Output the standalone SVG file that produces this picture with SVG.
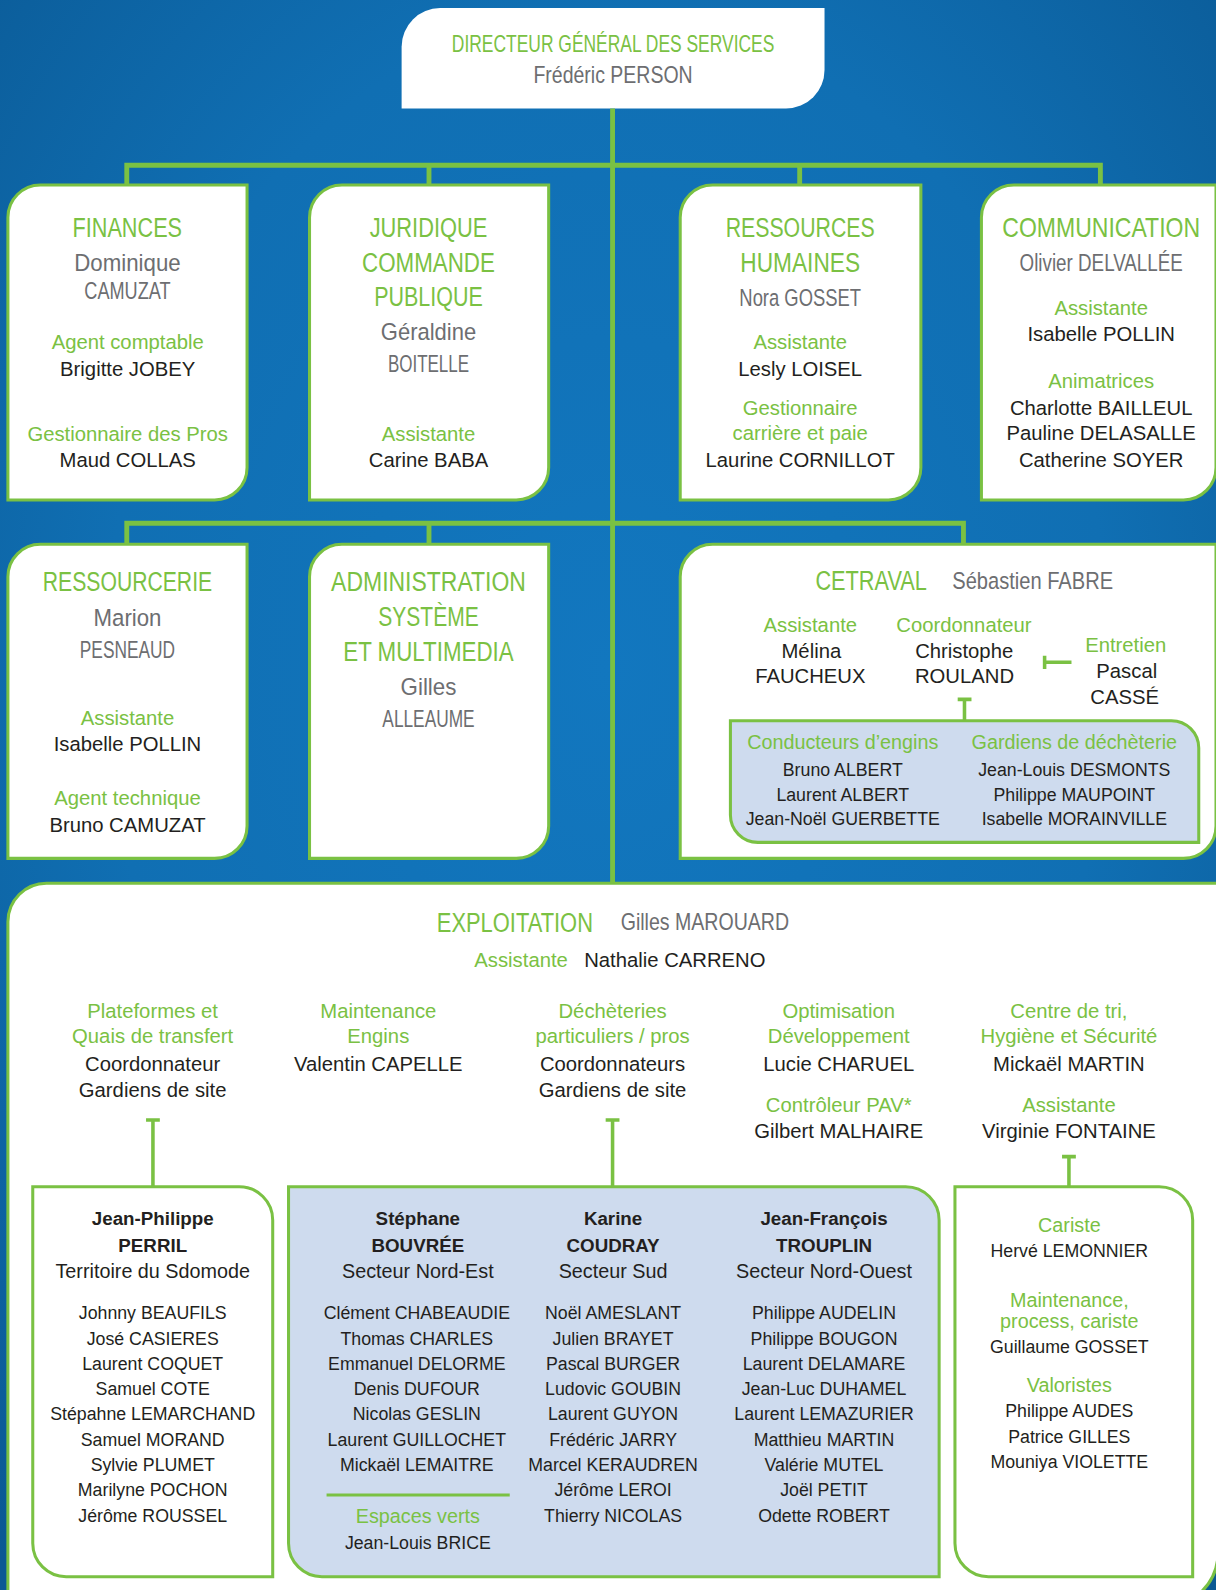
<svg xmlns="http://www.w3.org/2000/svg" width="1216" height="1590" viewBox="0 0 1216 1590">
<defs>
<radialGradient id="bg" cx="50%" cy="42%" r="75%">
<stop offset="0" stop-color="#1277bf"/>
<stop offset="0.55" stop-color="#106fb3"/>
<stop offset="1" stop-color="#0a5893"/>
</radialGradient>
<style>
text{font-family:'Liberation Sans',Arial,sans-serif;text-anchor:middle}
.box{fill:#fff;stroke:#7ac143;stroke-width:3}
.lb{fill:#cedbee;stroke:#7ac143;stroke-width:3}
.ti{font-size:27px;fill:#7ac143}
.tg{font-size:23px;fill:#7ac143}
.gr{font-size:23px;fill:#6d6e71}
.r{font-size:20px;fill:#7ac143}
.n{font-size:20px;fill:#231f20}
.r2{font-size:19.5px;fill:#7ac143}
.s{font-size:17.5px;fill:#231f20}
.b{font-size:18.5px;font-weight:bold;fill:#231f20}
.h{font-size:19.5px;fill:#231f20}
.st{text-anchor:start}
.ln{fill:none;stroke:#7ac143;stroke-width:4.8}
.tk{fill:none;stroke:#7ac143;stroke-width:3.5}
</style>
</defs>
<rect width="1216" height="1590" fill="url(#bg)"/>
<g transform="scale(1.01418,1.01403)">

<g id="dgs">
<path d="M396,46 A38,38 0 0 1 434,8 H813 V69 A38,38 0 0 1 775,107 H396 Z" fill="#fff"/>
<text class="tg" x="604.5" y="51" textLength="318" lengthAdjust="spacingAndGlyphs">DIRECTEUR GÉNÉRAL DES SERVICES</text>
<text class="gr" x="604.5" y="82.2" textLength="157" lengthAdjust="spacingAndGlyphs">Frédéric PERSON</text>
</g>

<g id="finances">
<path class="box" d="M7.8,214.4 A32,32 0 0 1 39.8,182.4 H243.6 V461 A32,32 0 0 1 211.6,493 H7.8 Z"/>
<text class="ti" x="125.5" y="233.4" textLength="108" lengthAdjust="spacingAndGlyphs">FINANCES</text>
<text class="gr" x="125.7" y="266.9" textLength="105" lengthAdjust="spacingAndGlyphs">Dominique</text>
<text class="gr" x="125.7" y="295.2" textLength="85" lengthAdjust="spacingAndGlyphs">CAMUZAT</text>
<text class="r" x="125.9" y="344.5">Agent comptable</text>
<text class="n" x="125.9" y="370.8">Brigitte JOBEY</text>
<text class="r" x="125.9" y="434.9">Gestionnaire des Pros</text>
<text class="n" x="125.9" y="460.8">Maud COLLAS</text>
</g>

<g id="juridique">
<path class="box" d="M305.2,214.4 A32,32 0 0 1 337.2,182.4 H541 V461 A32,32 0 0 1 509,493 H305.2 Z"/>
<text class="ti" x="422.5" y="233.4" textLength="116" lengthAdjust="spacingAndGlyphs">JURIDIQUE</text>
<text class="ti" x="422.5" y="267.9" textLength="131" lengthAdjust="spacingAndGlyphs">COMMANDE</text>
<text class="ti" x="422.5" y="301.8" textLength="107" lengthAdjust="spacingAndGlyphs">PUBLIQUE</text>
<text class="gr" x="422.5" y="335.3" textLength="94" lengthAdjust="spacingAndGlyphs">Géraldine</text>
<text class="gr" x="422.5" y="366.5" textLength="80" lengthAdjust="spacingAndGlyphs">BOITELLE</text>
<text class="r" x="422.5" y="434.9">Assistante</text>
<text class="n" x="422.5" y="460.8">Carine BABA</text>
</g>

<g id="rh">
<path class="box" d="M670.7,214.4 A32,32 0 0 1 702.7,182.4 H908 V461 A32,32 0 0 1 876,493 H670.7 Z"/>
<text class="ti" x="789" y="233.4" textLength="147" lengthAdjust="spacingAndGlyphs">RESSOURCES</text>
<text class="ti" x="789" y="267.9" textLength="118" lengthAdjust="spacingAndGlyphs">HUMAINES</text>
<text class="gr" x="789" y="301.8" textLength="120" lengthAdjust="spacingAndGlyphs">Nora GOSSET</text>
<text class="r" x="789" y="344.5">Assistante</text>
<text class="n" x="789" y="370.8">Lesly LOISEL</text>
<text class="r" x="789" y="409.3">Gestionnaire</text>
<text class="r" x="789" y="433.9">carrière et paie</text>
<text class="n" x="789" y="460.8">Laurine CORNILLOT</text>
</g>

<g id="communication">
<path class="box" d="M967.7,214.4 A32,32 0 0 1 999.7,182.4 H1199 V461 A32,32 0 0 1 1167,493 H967.7 Z"/>
<text class="ti" transform="translate(1085.8,233.4) scale(0.75,1)" x="0" y="0" textLength="260" lengthAdjust="spacingAndGlyphs">COMMUNICATION</text>
<text class="gr" transform="translate(1085.8,266.9) scale(0.75,1)" x="0" y="0" textLength="214.7" lengthAdjust="spacingAndGlyphs">Olivier DELVALLÉE</text>
<text class="r" x="1085.8" y="310.6">Assistante</text>
<text class="n" x="1085.8" y="336.3">Isabelle POLLIN</text>
<text class="r" x="1085.8" y="383">Animatrices</text>
<text class="n" x="1085.8" y="409.3">Charlotte BAILLEUL</text>
<text class="n" x="1085.8" y="433.9">Pauline DELASALLE</text>
<text class="n" x="1085.8" y="460.8">Catherine SOYER</text>
</g>

<g id="ressourcerie">
<path class="box" d="M7.8,568.8 A32,32 0 0 1 39.8,536.8 H243.6 V814.5 A32,32 0 0 1 211.6,846.5 H7.8 Z"/>
<text class="ti" x="125.7" y="582.8" textLength="167" lengthAdjust="spacingAndGlyphs">RESSOURCERIE</text>
<text class="gr" x="125.7" y="617.3" textLength="67" lengthAdjust="spacingAndGlyphs">Marion</text>
<text class="gr" x="125.7" y="648.5" textLength="94" lengthAdjust="spacingAndGlyphs">PESNEAUD</text>
<text class="r" x="125.7" y="715">Assistante</text>
<text class="n" x="125.7" y="740.3">Isabelle POLLIN</text>
<text class="r" x="125.7" y="793.8">Agent technique</text>
<text class="n" x="125.7" y="820.1">Bruno CAMUZAT</text>
</g>

<g id="administration">
<path class="box" d="M305.2,568.8 A32,32 0 0 1 337.2,536.8 H541 V814.5 A32,32 0 0 1 509,846.5 H305.2 Z"/>
<text class="ti" x="422.5" y="582.8" textLength="192" lengthAdjust="spacingAndGlyphs">ADMINISTRATION</text>
<text class="ti" x="422.5" y="617.3" textLength="99" lengthAdjust="spacingAndGlyphs">SYSTÈME</text>
<text class="ti" x="422.5" y="651.5" textLength="168" lengthAdjust="spacingAndGlyphs">ET MULTIMEDIA</text>
<text class="gr" x="422.5" y="685.4" textLength="55" lengthAdjust="spacingAndGlyphs">Gilles</text>
<text class="gr" x="422.5" y="716.6" textLength="91" lengthAdjust="spacingAndGlyphs">ALLEAUME</text>
</g>

<g id="cetraval">
<path class="box" d="M670.7,568.8 A32,32 0 0 1 702.7,536.8 H1199 V814.5 A32,32 0 0 1 1167,846.5 H670.7 Z"/>
<text class="ti st" x="804" y="581.8" textLength="110" lengthAdjust="spacingAndGlyphs">CETRAVAL</text>
<text class="gr st" x="939" y="580.8" textLength="158.5" lengthAdjust="spacingAndGlyphs">Sébastien FABRE</text>
<text class="r" x="799" y="623">Assistante</text>
<text class="n" x="800" y="648.6">Mélina</text>
<text class="n" x="799" y="673.9">FAUCHEUX</text>
<text class="r" x="950.5" y="623">Coordonnateur</text>
<text class="n" x="950.7" y="648.6">Christophe</text>
<text class="n" x="951" y="673.9">ROULAND</text>
<text class="r" x="1110" y="642.7">Entretien</text>
<text class="n" x="1111" y="668.3">Pascal</text>
<text class="n" x="1109" y="694.3">CASSÉ</text>
</g>

<g id="cetraval-equipes">
<path class="lb" d="M720.2,710.7 H1155 A27,27 0 0 1 1182,737.7 V830.7 H747.2 A27,27 0 0 1 720.2,803.7 Z"/>
<text class="r2" x="831" y="739">Conducteurs d’engins</text>
<text class="s" x="831" y="765">Bruno ALBERT</text>
<text class="s" x="831" y="789.6">Laurent ALBERT</text>
<text class="s" x="831" y="813.6">Jean-Noël GUERBETTE</text>
<text class="r2" x="1059.3" y="739">Gardiens de déchèterie</text>
<text class="s" x="1059.3" y="765">Jean-Louis DESMONTS</text>
<text class="s" x="1059.3" y="789.6">Philippe MAUPOINT</text>
<text class="s" x="1059.3" y="813.6">Isabelle MORAINVILLE</text>
</g>

<g id="exploitation">
<path class="box" d="M7.8,909 A38,38 0 0 1 45.8,871 H1201 V1531 A54,54 0 0 1 1147,1585 H7.8 Z"/>
<text class="ti st" x="430.7" y="918.8" textLength="154" lengthAdjust="spacingAndGlyphs">EXPLOITATION</text>
<text class="gr st" x="612" y="917" textLength="166" lengthAdjust="spacingAndGlyphs">Gilles MAROUARD</text>
<text class="r st" x="467.7" y="953.3">Assistante</text>
<text class="n st" x="576" y="953.3">Nathalie CARRENO</text>
<text class="r" x="150.5" y="1003.6">Plateformes et</text>
<text class="r" x="150.5" y="1028.9">Quais de transfert</text>
<text class="n" x="150.5" y="1055.9">Coordonnateur</text>
<text class="n" x="150.5" y="1082.2">Gardiens de site</text>
<text class="r" x="373" y="1003.6">Maintenance</text>
<text class="r" x="373" y="1028.9">Engins</text>
<text class="n" x="373" y="1055.9">Valentin CAPELLE</text>
<text class="r" x="604" y="1003.6">Déchèteries</text>
<text class="r" x="604" y="1028.9">particuliers / pros</text>
<text class="n" x="604" y="1055.9">Coordonnateurs</text>
<text class="n" x="604" y="1082.2">Gardiens de site</text>
<text class="r" x="827" y="1003.6">Optimisation</text>
<text class="r" x="827" y="1028.9">Développement</text>
<text class="n" x="827" y="1055.9">Lucie CHARUEL</text>
<text class="r" x="827" y="1096.3">Contrôleur PAV*</text>
<text class="n" x="827" y="1122.6">Gilbert MALHAIRE</text>
<text class="r" x="1054" y="1003.6">Centre de tri,</text>
<text class="r" x="1054" y="1028.9">Hygiène et Sécurité</text>
<text class="n" x="1054" y="1055.9">Mickaël MARTIN</text>
<text class="r" x="1054" y="1096.3">Assistante</text>
<text class="n" x="1054" y="1122.6">Virginie FONTAINE</text>
</g>

<g id="sdomode">
<path class="box" d="M32.3,1170.3 H235.9 A33,33 0 0 1 268.9,1203.3 V1554.9 H65.3 A33,33 0 0 1 32.3,1521.9 Z"/>
<text class="b" x="150.6" y="1208">Jean-Philippe</text>
<text class="b" x="150.6" y="1234.3">PERRIL</text>
<text class="h" x="150.6" y="1260.6">Territoire du Sdomode</text>
<text class="s" x="150.6" y="1301">Johnny BEAUFILS</text>
<text class="s" x="150.6" y="1326">José CASIERES</text>
<text class="s" x="150.6" y="1351">Laurent COQUET</text>
<text class="s" x="150.6" y="1376">Samuel COTE</text>
<text class="s" x="150.6" y="1400.8">Stépahne LEMARCHAND</text>
<text class="s" x="150.6" y="1425.8">Samuel MORAND</text>
<text class="s" x="150.6" y="1450.7">Sylvie PLUMET</text>
<text class="s" x="150.6" y="1475.7">Marilyne POCHON</text>
<text class="s" x="150.6" y="1500.6">Jérôme ROUSSEL</text>
</g>

<g id="secteurs">
<path class="lb" d="M284.5,1170.3 H893 A33,33 0 0 1 926,1203.3 V1554.9 H317.5 A33,33 0 0 1 284.5,1521.9 Z"/>
<text class="b" x="412" y="1208">Stéphane</text>
<text class="b" x="412" y="1234.3">BOUVRÉE</text>
<text class="h" x="412" y="1260.6">Secteur Nord-Est</text>
<text class="s" x="411" y="1301">Clément CHABEAUDIE</text>
<text class="s" x="411" y="1326">Thomas CHARLES</text>
<text class="s" x="411" y="1351">Emmanuel DELORME</text>
<text class="s" x="411" y="1376">Denis DUFOUR</text>
<text class="s" x="411" y="1400.8">Nicolas GESLIN</text>
<text class="s" x="411" y="1425.8">Laurent GUILLOCHET</text>
<text class="s" x="411" y="1450.7">Mickaël LEMAITRE</text>
<line x1="322" y1="1474.4" x2="502.6" y2="1474.4" stroke="#7ac143" stroke-width="3"/>
<text class="r2" x="412" y="1502.3">Espaces verts</text>
<text class="s" x="412" y="1527.9">Jean-Louis BRICE</text>
<text class="b" x="604.5" y="1208">Karine</text>
<text class="b" x="604.5" y="1234.3">COUDRAY</text>
<text class="h" x="604.5" y="1260.6">Secteur Sud</text>
<text class="s" x="604.5" y="1301">Noël AMESLANT</text>
<text class="s" x="604.5" y="1326">Julien BRAYET</text>
<text class="s" x="604.5" y="1351">Pascal BURGER</text>
<text class="s" x="604.5" y="1376">Ludovic GOUBIN</text>
<text class="s" x="604.5" y="1400.8">Laurent GUYON</text>
<text class="s" x="604.5" y="1425.8">Frédéric JARRY</text>
<text class="s" x="604.5" y="1450.7">Marcel KERAUDREN</text>
<text class="s" x="604.5" y="1475.7">Jérôme LEROI</text>
<text class="s" x="604.5" y="1500.6">Thierry NICOLAS</text>
<text class="b" x="812.5" y="1208">Jean-François</text>
<text class="b" x="812.5" y="1234.3">TROUPLIN</text>
<text class="h" x="812.5" y="1260.6">Secteur Nord-Ouest</text>
<text class="s" x="812.5" y="1301">Philippe AUDELIN</text>
<text class="s" x="812.5" y="1326">Philippe BOUGON</text>
<text class="s" x="812.5" y="1351">Laurent DELAMARE</text>
<text class="s" x="812.5" y="1376">Jean-Luc DUHAMEL</text>
<text class="s" x="812.5" y="1400.8">Laurent LEMAZURIER</text>
<text class="s" x="812.5" y="1425.8">Matthieu MARTIN</text>
<text class="s" x="812.5" y="1450.7">Valérie MUTEL</text>
<text class="s" x="812.5" y="1475.7">Joël PETIT</text>
<text class="s" x="812.5" y="1500.6">Odette ROBERT</text>
</g>

<g id="centre-tri">
<path class="box" d="M941.6,1170.3 H1143 A33,33 0 0 1 1176,1203.3 V1554.9 H974.6 A33,33 0 0 1 941.6,1521.9 Z"/>
<text class="r2" x="1054.4" y="1214.6">Cariste</text>
<text class="s" x="1054.4" y="1239.3">Hervé LEMONNIER</text>
<text class="r2" x="1054.4" y="1288.6">Maintenance,</text>
<text class="r2" x="1054.4" y="1310">process, cariste</text>
<text class="s" x="1054.4" y="1334.6">Guillaume GOSSET</text>
<text class="r2" x="1054.4" y="1373">Valoristes</text>
<text class="s" x="1054.4" y="1397.7">Philippe AUDES</text>
<text class="s" x="1054.4" y="1422.7">Patrice GILLES</text>
<text class="s" x="1054.4" y="1448">Mouniya VIOLETTE</text>
</g>

<g id="connectors">
<path class="ln" d="M604,107 V871"/>
<path class="ln" d="M125,182.4 V163 H1085 V182.4 M423,163 V182.4 M788.5,163 V182.4"/>
<path class="ln" d="M125,536.8 V516 H950 V536.8 M423,516 V536.8"/>
<path class="tk" d="M1030,646.6 V659.7 M1030,653 H1056.5"/>
<path class="tk" d="M944.3,689.7 H957.9 M951,689.7 V710.7"/>
<path class="tk" d="M144,1104.5 H157.6 M150.8,1104.5 V1170.3"/>
<path class="tk" d="M597.2,1104.5 H610.8 M604,1104.5 V1170.3"/>
<path class="tk" d="M1047.2,1140.6 H1060.8 M1054,1140.6 V1170.3"/>
</g>

</g>
</svg>
